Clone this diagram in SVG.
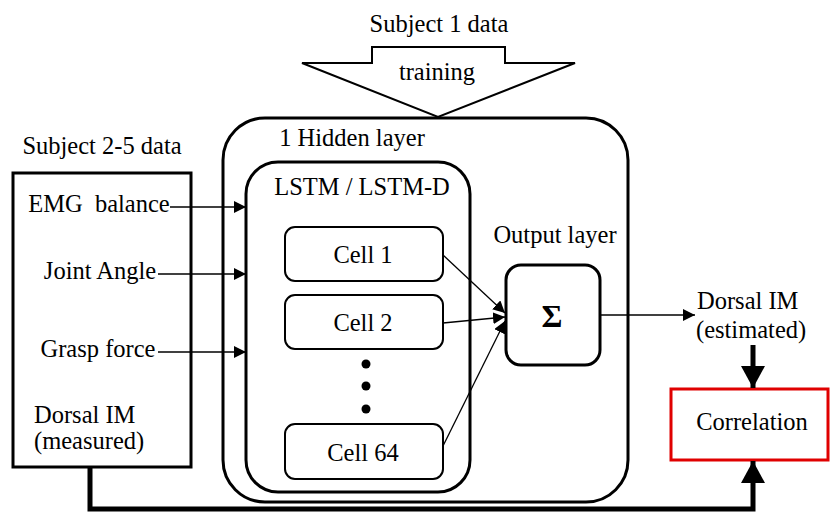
<svg xmlns="http://www.w3.org/2000/svg" width="831" height="513" viewBox="0 0 831 513">
<style>
.t{font-family:'Liberation Serif','Times New Roman','DejaVu Serif',serif;font-size:24.5px;fill:#000}
.box{fill:#fff;stroke:#000;stroke-width:3}
.thin{fill:none;stroke:#000;stroke-width:1.3}
.thick{fill:none;stroke:#000;stroke-width:5}
</style>
<defs>
<marker id="ah" markerUnits="userSpaceOnUse" markerWidth="12" markerHeight="12" viewBox="0 0 12 12" refX="12" refY="6" orient="auto">
<path d="M0,0 L12,6 L0,12 Z" fill="#000"/>
</marker>
<marker id="bh" markerUnits="userSpaceOnUse" markerWidth="22" markerHeight="24" viewBox="0 0 22 24" refX="22" refY="12" orient="auto">
<path d="M0,0 L22,12 L0,24 Z" fill="#000"/>
</marker>
</defs>
<g font-family="Liberation Serif, serif" font-size="24.5">
<g id="training-arrow">
<polygon points="372,47 505,47 505,63 575,63 438,117 302,63 372,63" fill="#fff" stroke="#000" stroke-width="2"/>
<text class="t" x="439" y="32" text-anchor="middle">Subject 1 data</text>
<text class="t" x="437" y="80" text-anchor="middle">training</text>
</g>
<g id="hidden-layer">
<rect x="223" y="118" width="405" height="384" rx="42" class="box"/>
<text class="t" x="352" y="146" text-anchor="middle">1 Hidden layer</text>
</g>
<g id="lstm">
<rect x="246" y="162" width="224" height="330" rx="32" class="box"/>
<text class="t" x="362" y="195" text-anchor="middle">LSTM / LSTM-D</text>
</g>
<g id="cell1">
<rect x="285" y="227" width="158" height="54" rx="10" fill="#fff" stroke="#000" stroke-width="2"/>
<text class="t" x="363" y="263" text-anchor="middle">Cell 1</text>
</g>
<g id="cell2">
<rect x="285" y="295" width="158" height="54" rx="10" fill="#fff" stroke="#000" stroke-width="2"/>
<text class="t" x="363" y="331" text-anchor="middle">Cell 2</text>
</g>
<g id="dots">
<circle cx="366" cy="364" r="4.5"/>
<circle cx="366" cy="386" r="4.5"/>
<circle cx="366" cy="409" r="4.5"/>
</g>
<g id="cell64">
<rect x="285" y="424" width="158" height="55" rx="10" fill="#fff" stroke="#000" stroke-width="2"/>
<text class="t" x="363" y="461" text-anchor="middle">Cell 64</text>
</g>
<g id="output-layer">
<text class="t" x="555" y="243" text-anchor="middle">Output layer</text>
<rect x="506" y="265" width="94" height="100" rx="15" class="box"/>
<text class="t" x="552" y="327" text-anchor="middle" font-weight="bold" style="font-size:32px">Σ</text>
</g>
<g id="subjects-2-5">
<text class="t" x="102" y="154" text-anchor="middle">Subject 2-5 data</text>
<rect x="13" y="173" width="178" height="294" class="box"/>
<text class="t" x="99" y="212" text-anchor="middle">EMG&#160; balance</text>
<text class="t" x="100" y="279" text-anchor="middle">Joint Angle</text>
<text class="t" x="98" y="357" text-anchor="middle">Grasp force</text>
<text class="t" x="34" y="423">Dorsal IM</text>
<text class="t" x="34" y="449">(measured)</text>
</g>
<g id="estimated">
<text class="t" x="697" y="309">Dorsal IM</text>
<text class="t" x="696" y="338">(estimated)</text>
</g>
<g id="correlation">
<rect x="671" y="389" width="157" height="71" fill="#fff" stroke="#e00000" stroke-width="3"/>
<text class="t" x="752" y="430" text-anchor="middle">Correlation</text>
</g>
</g>
<g id="connectors">
<line x1="170" y1="207" x2="246" y2="207" class="thin" marker-end="url(#ah)"/>
<line x1="158" y1="274" x2="246" y2="274" class="thin" marker-end="url(#ah)"/>
<line x1="158" y1="352" x2="246" y2="352" class="thin" marker-end="url(#ah)"/>
<line x1="443" y1="255" x2="505" y2="313" class="thin" marker-end="url(#ah)"/>
<line x1="443" y1="323" x2="505" y2="317" class="thin" marker-end="url(#ah)"/>
<line x1="443" y1="446" x2="505" y2="321" class="thin" marker-end="url(#ah)"/>
<line x1="600" y1="315" x2="695" y2="315" class="thin" marker-end="url(#ah)"/>
<line x1="753" y1="345" x2="753" y2="388" class="thick" marker-end="url(#bh)"/>
<polyline points="90,467 90,509 753,509 753,461" class="thick" marker-end="url(#bh)"/>
</g>
</svg>
